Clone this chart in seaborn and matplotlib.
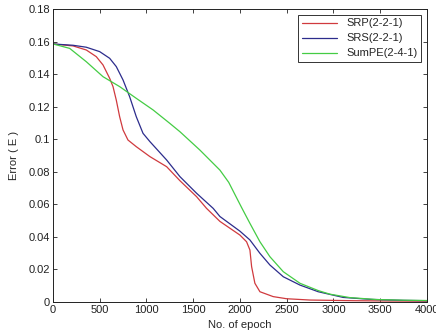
import numpy as np
import pandas as pd
import matplotlib
matplotlib.use('Agg')
import matplotlib.pyplot as plt
import seaborn as sns

# values
srp_epoch = [0, 214, 356, 463, 535, 606, 642, 677, 713, 749, 802, 891, 1037, 1216, 1358, 1536,
             1643, 1786, 2000, 2071, 2107, 2125, 2160, 2214, 2356, 2499, 2748, 3200, 3600, 4000]
srp_error = [0.1585, 0.1573, 0.1548, 0.1507, 0.1456, 0.1374, 0.1323, 0.124, 0.1138, 0.1057, 0.0995, 0.0954, 0.0893, 0.0831, 0.0745, 0.0647,
             0.0575, 0.0495, 0.0411, 0.037, 0.0319, 0.0217, 0.0115, 0.0063, 0.0033, 0.002, 0.0012, 0.0008, 0.0006, 0.0005]

srs_epoch = [0, 214, 356, 499, 606, 677, 749, 820, 891, 963, 1037, 1216, 1358, 1536, 1714, 1786,
             2000, 2107, 2214, 2321, 2464, 2642, 2838, 3105, 3400, 3750, 4000]
srs_error = [0.1585, 0.1577, 0.1565, 0.1538, 0.1497, 0.1446, 0.1364, 0.1261, 0.1138, 0.1036, 0.0985, 0.0872, 0.077, 0.0668, 0.0575, 0.0525,
             0.0435, 0.0381, 0.0299, 0.0227, 0.0155, 0.0104, 0.0063, 0.0028, 0.0016, 0.0010, 0.0008]

sumpe_epoch = [0, 178, 356, 535, 713, 891, 1070, 1248, 1358, 1572, 1786, 1880, 1960, 2018, 2107, 2214,
               2321, 2464, 2642, 2838, 2963, 3176, 3462, 3750, 4000]
sumpe_error = [0.1585, 0.1558, 0.1476, 0.1384, 0.1323, 0.1251, 0.118, 0.1098, 0.1046, 0.0933, 0.081, 0.0735, 0.0645, 0.0580, 0.0483, 0.037,
               0.0278, 0.0186, 0.0115, 0.0070, 0.0048, 0.0027, 0.0015, 0.0011, 0.0009]

labels = ['SRP(2-2-1)', 'SRS(2-2-1)', 'SumPE(2-4-1)']
colors = ['#d03a3e', '#2c2c8c', '#44cc44']

df = pd.concat([
    pd.DataFrame({'epoch': srp_epoch, 'error': srp_error, 'model': labels[0]}),
    pd.DataFrame({'epoch': srs_epoch, 'error': srs_error, 'model': labels[1]}),
    pd.DataFrame({'epoch': sumpe_epoch, 'error': sumpe_error, 'model': labels[2]}),
])

sns.set_style('white')
plt.rcParams['font.family'] = ['Liberation Sans', 'DejaVu Sans']
plt.rcParams['font.size'] = 8

fig, ax = plt.subplots(figsize=(4.36, 3.32), dpi=100)
fig.subplots_adjust(left=0.1216, right=0.979, top=0.973, bottom=0.0904)

sns.lineplot(data=df, x='epoch', y='error', hue='model', palette=dict(zip(labels, colors)),
             linewidth=0.9, ax=ax, sort=False)

ax.set_xlim(0, 4000)
ax.set_ylim(0, 0.18)
ax.set_xticks(np.arange(0, 4001, 500))
ax.set_yticks(np.arange(0, 0.181, 0.02))
ax.set_yticklabels(['0', '0.02', '0.04', '0.06', '0.08', '0.1', '0.12', '0.14', '0.16', '0.18'])
ax.tick_params(direction='in', length=3, width=0.6, bottom=True, left=True, top=True, right=True,
               labelsize=8, pad=2, colors='#222222')
for s in ax.spines.values():
    s.set_color('#222222')
    s.set_linewidth(0.7)

ax.set_xlabel('No. of epoch', fontsize=8, labelpad=3.5)
ax.set_ylabel('Error ( E )', fontsize=8, labelpad=7)

leg = ax.legend(loc='upper right', fontsize=8, frameon=True, fancybox=False, borderaxespad=0.5,
                handlelength=3.2, labelspacing=0.45, borderpad=0.35)
leg.get_frame().set_edgecolor('black')
leg.get_frame().set_linewidth(0.7)

fig.savefig('out.png', dpi=100)
